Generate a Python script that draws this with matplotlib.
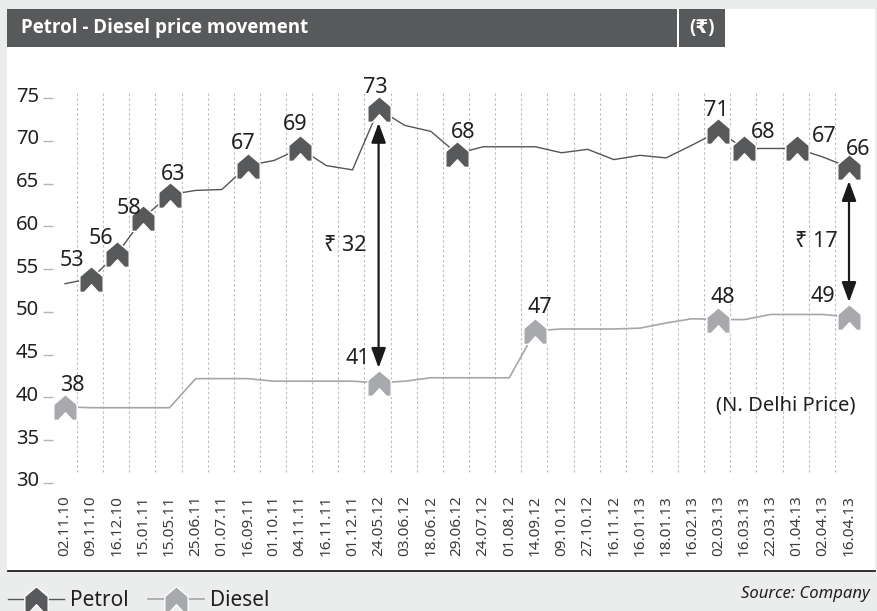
import matplotlib
matplotlib.use("Agg")
import matplotlib.pyplot as plt
from matplotlib.path import Path
from matplotlib.patches import Rectangle
from matplotlib.lines import Line2D
from matplotlib.transforms import ScaledTranslation

plt.rcParams['font.family'] = ['Noto Sans', 'DejaVu Sans']

# ---- data (N. Delhi, Rs/litre) ---------------------------------------------
dates = ["02.11.10", "09.11.10", "16.12.10", "15.01.11", "15.05.11", "25.06.11",
         "01.07.11", "16.09.11", "01.10.11", "04.11.11", "16.11.11", "01.12.11",
         "24.05.12", "03.06.12", "18.06.12", "29.06.12", "24.07.12", "01.08.12",
         "14.09.12", "09.10.12", "27.10.12", "16.11.12", "16.01.13", "18.01.13",
         "16.02.13", "02.03.13", "16.03.13", "22.03.13", "01.04.13", "02.04.13",
         "16.04.13"]
petrol = [53.3, 53.9, 56.8, 61.0, 63.7, 64.2, 64.3, 67.1, 67.7, 69.1, 67.1, 66.6,
          73.7, 71.8, 71.1, 68.5, 69.3, 69.3, 69.3, 68.6, 69.0, 67.8, 68.3, 68.0,
          69.5, 71.1, 69.1, 69.1, 69.1, 68.1, 66.9]
diesel = [38.9, 38.8, 38.8, 38.8, 38.8, 42.2, 42.2, 42.2, 41.9, 41.9, 41.9, 41.9,
          41.7, 41.9, 42.3, 42.3, 42.3, 42.3, 47.8, 48.0, 48.0, 48.0, 48.1, 48.7,
          49.2, 49.1, 49.1, 49.7, 49.7, 49.7, 49.4]
petrol_marks = [1, 2, 3, 4, 7, 9, 12, 15, 25, 26, 28, 30]
petrol_labels = ["53", "56", "58", "63", "67", "69", "73", "68", "71", "68", "67", "66"]
diesel_marks = [0, 12, 18, 25, 30]
diesel_labels = ["38", "41", "47", "48", "49"]
gap_at = [12, 30]
gap_labels = ["₹ 32", "₹ 17"]
yticks = [30, 35, 40, 45, 50, 55, 60, 65, 70, 75]

# label offsets in pixels (dx, dy) from the marker
petrol_off = [(-19, 18), (-16, 15), (-14, 9), (4, 20), (-5, 22), (-5, 24), (-3, 22),
              (6, 21), (-2, 21), (19, 16), (27, 12), (9, 18)]
diesel_off = [(7, 21), (-21, 24), (4, 23), (4, 22), (-26, 21)]

C_PET = "#58595b"
C_DIE = "#a7a9ac"
C_TXT = "#231f20"
BG = "#ebecec"
BOLD = ['Open Sans', 'DejaVu Sans']

W, H = 877, 611
fig = plt.figure(figsize=(W / 100, H / 100), dpi=100, facecolor=BG)


def fx(px):
    return px / W


def fy(py):
    return 1 - py / H


# white panel, title bar, bottom rule
fig.patches.append(Rectangle((fx(7), fy(571)), fx(868), 562 / H, transform=fig.transFigure,
                             fc="white", ec="none", zorder=-2))
fig.patches.append(Rectangle((fx(7), fy(47)), fx(670), 38 / H, transform=fig.transFigure,
                             fc=C_PET, ec="none", zorder=-1))
fig.patches.append(Rectangle((fx(679), fy(47)), fx(46), 38 / H, transform=fig.transFigure,
                             fc=C_PET, ec="none", zorder=-1))
fig.text(fx(21), fy(28.5), "Petrol - Diesel price movement", color="white",
         fontsize=13.5, fontweight="bold", va="center", ha="left", family=BOLD)
fig.text(fx(702), fy(28.5), "(₹)", color="white", fontsize=13.5, fontweight="bold",
         va="center", ha="center", family=BOLD)
fig.add_artist(Line2D([fx(8), fx(875)], [fy(571), fy(571)], transform=fig.transFigure,
                      color=C_TXT, lw=1.3))

# axes: index 0 at px 65, index 30 at px 849; value 30 at px 483, 75 at px 98
step = (849 - 65) / 30
ppv = (483 - 98) / 45
ax_l, ax_r = 53, 862
ax_b, ax_t = 483, 483 - 47 * ppv
ax = fig.add_axes([fx(ax_l), fy(ax_b), (ax_r - ax_l) / W, (ax_b - ax_t) / H])
ax.set_zorder(2)
ax.set_facecolor("none")
ax.set_xlim(-(65 - ax_l) / step, 30 + (ax_r - 849) / step)
ax.set_ylim(30, 77)
for s in ax.spines.values():
    s.set_visible(False)

x = list(range(len(dates)))

# dotted separators
ax.vlines([i + 0.46 for i in x[:-1]], 31.3, 75.6, colors="#bdbdbd", lw=0.8,
          linestyles=(0, (2.2, 2.2)), zorder=1)

house = Path([(0, 1.1), (1, 0.25), (1, -1.1), (0.6, -1.1), (0, -0.45), (-0.6, -1.1),
              (-1, -1.1), (-1, 0.25), (0, 1.1)],
             [Path.MOVETO] + [Path.LINETO] * 7 + [Path.CLOSEPOLY])
MK = dict(marker=house, ms=18.5, mec="white", mew=1.0)

ax.plot(x, petrol, color="#555555", lw=1.0, zorder=2)
ax.plot(x, diesel, color="#a6a6a6", lw=1.2, zorder=2)
ax.plot(petrol_marks, [petrol[i] for i in petrol_marks], ls="none", mfc=C_PET,
        zorder=3, clip_on=False, **MK)
ax.plot(diesel_marks, [diesel[i] for i in diesel_marks], ls="none", mfc=C_DIE,
        zorder=3, clip_on=False, **MK)

for i, t, (dx, dy) in zip(petrol_marks, petrol_labels, petrol_off):
    ax.annotate(t, (i, petrol[i]), xytext=(dx, dy), textcoords="offset pixels",
                ha="center", va="center", fontsize=15.5, color=C_TXT)
for i, t, (dx, dy) in zip(diesel_marks, diesel_labels, diesel_off):
    ax.annotate(t, (i, diesel[i]), xytext=(dx, dy), textcoords="offset pixels",
                ha="center", va="center", fontsize=15.5, color=C_TXT)

# price gap arrows
for i, t in zip(gap_at, gap_labels):
    top, bot = petrol[i] - 1.6, diesel[i] + 1.75
    ax.annotate("", xy=(i, bot), xytext=(i, top),
                arrowprops=dict(arrowstyle="<|-|>,head_length=0.6,head_width=0.22",
                                mutation_scale=20, color="#1a1a1a", lw=1.6,
                                shrinkA=0, shrinkB=0))
    ax.annotate(t, (i, (top + bot) / 2), xytext=(-33, 0), textcoords="offset pixels",
                ha="center", va="center", fontsize=15.5, color=C_TXT)

ax.text(30 + 7 / step, 39.1, "(N. Delhi Price)", ha="right", va="center",
        fontsize=14.5, color=C_TXT)

# ticks
ax.set_xticks(x)
ax.set_xticklabels(dates, rotation=90, ha="center", va="top")
ax.tick_params(axis="x", length=0, pad=9, labelsize=11, labelcolor="#3a3a3a")
ax.set_yticks(yticks)
ax.tick_params(axis="y", length=7.2, width=1, color="#b5b5b5", pad=2.8,
               labelsize=14.5, labelcolor=C_TXT)
for lbl in ax.get_yticklabels():
    lbl.set_transform(lbl.get_transform() + ScaledTranslation(0, 4 / 100, fig.dpi_scale_trans))

# legend
handles = [Line2D([], [], color="#555555", lw=1.0, mfc=C_PET, **MK),
           Line2D([], [], color="#a6a6a6", lw=1.2, mfc=C_DIE, **MK)]
fig.legend(handles, ["Petrol", "Diesel"], loc="center left",
           bbox_to_anchor=(fx(8), fy(601)), ncol=2, frameon=False, fontsize=15,
           handlelength=2.7, handletextpad=0.3, columnspacing=0.9, borderpad=0,
           borderaxespad=0, labelcolor=C_TXT)
fig.text(fx(870), fy(594), "Source: Company", ha="right", va="center",
         fontsize=12, style="italic", color=C_TXT)

fig.savefig("out.png", dpi=100, facecolor=BG)
